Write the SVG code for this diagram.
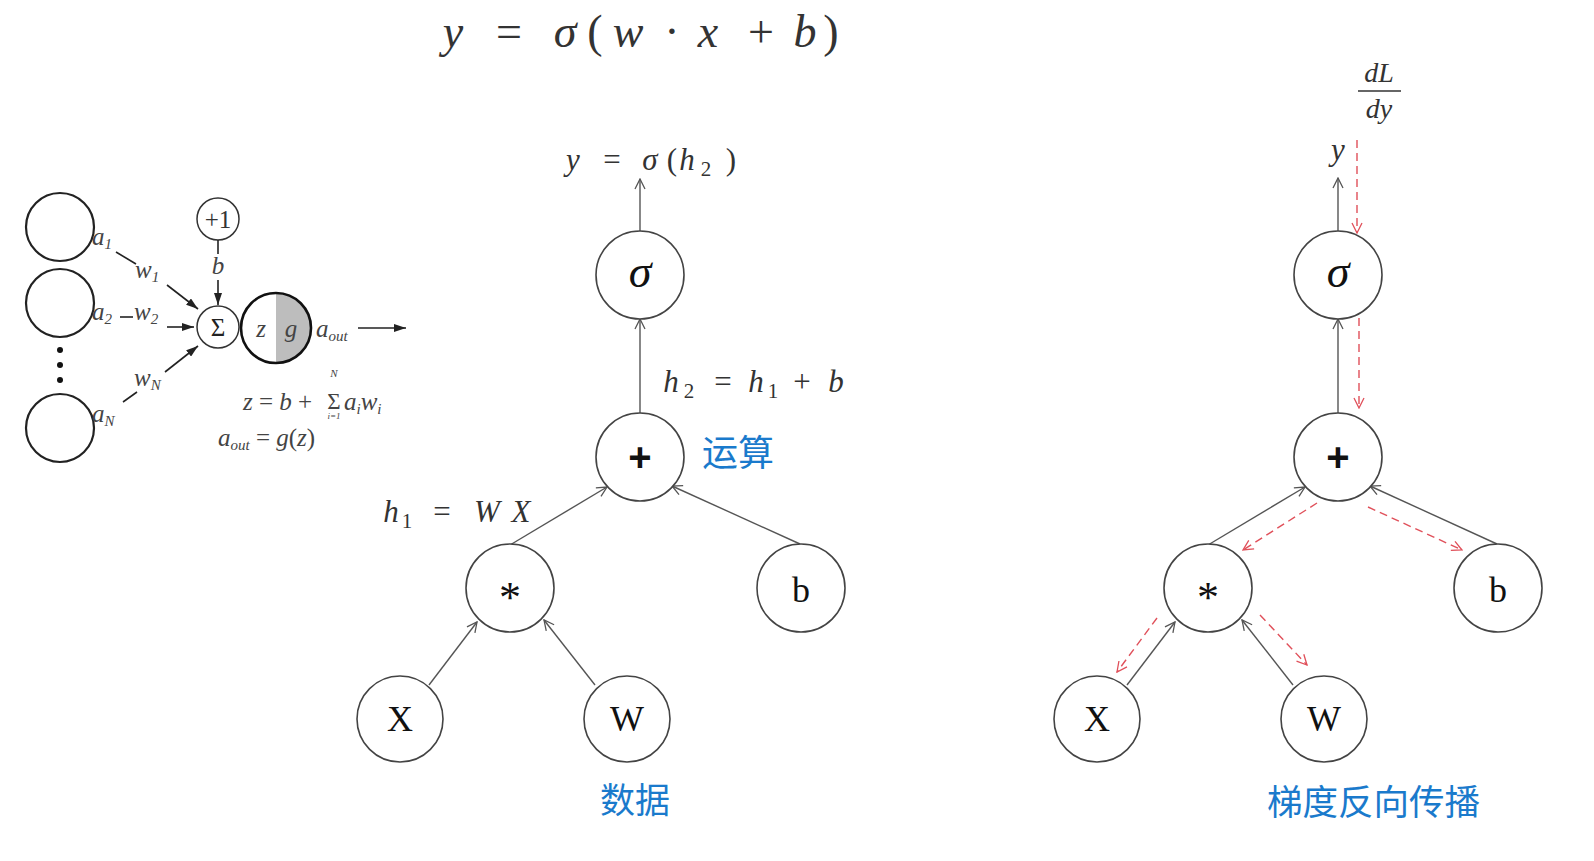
<svg xmlns="http://www.w3.org/2000/svg" width="1594" height="861" viewBox="0 0 1594 861">
<style>
.math{font-family:"Liberation Serif","DejaVu Serif",serif;fill:#333}
.node{fill:#fff;stroke:#444;stroke-width:1.6}
.lbl{font-family:"Liberation Serif","DejaVu Serif",serif;fill:#111;text-anchor:middle}
.cn{font-family:"Noto Sans CJK SC","Noto Sans",sans-serif;fill:#1a7acc}
.edge{stroke:#555;stroke-width:1.4;fill:none;marker-end:url(#arr)}
.back{stroke:#e0505a;stroke-width:1.4;fill:none;stroke-dasharray:8 5;marker-end:url(#arrR)}
.nl{font-family:"Liberation Serif","DejaVu Serif",serif;font-style:italic;fill:#444}
.nc{fill:#fff;stroke:#222;stroke-width:2.2}
.ne{stroke:#222;stroke-width:1.6;fill:none}
.na{stroke:#222;stroke-width:1.6;fill:none;marker-end:url(#tri)}
</style>
<defs>
<marker id="arr" viewBox="0 0 12 12" refX="11" refY="6" markerWidth="12" markerHeight="12" orient="auto" markerUnits="userSpaceOnUse"><path d="M1,1 L11,6 L1,11" fill="none" stroke="#555" stroke-width="1.3"/></marker>
<marker id="arrR" viewBox="0 0 12 12" refX="11" refY="6" markerWidth="12" markerHeight="12" orient="auto" markerUnits="userSpaceOnUse"><path d="M1,1 L11,6 L1,11" fill="none" stroke="#e0505a" stroke-width="1.3"/></marker>
<marker id="tri" viewBox="0 0 12 8" refX="12" refY="4" markerWidth="12" markerHeight="8" orient="auto" markerUnits="userSpaceOnUse"><path d="M0,0 L12,4 L0,8 z" fill="#222"/></marker>
</defs>
<rect width="1594" height="861" fill="#fff"/>

<!-- top formula -->
<g id="formula-top" class="math" font-size="46" text-anchor="middle">
<text y="47"><tspan x="453" font-style="italic">y</tspan><tspan x="509">=</tspan><tspan x="565" font-style="italic">σ</tspan><tspan x="595">(</tspan><tspan x="628" font-style="italic">w</tspan><tspan x="672">·</tspan><tspan x="708" font-style="italic">x</tspan><tspan x="761">+</tspan><tspan x="805" font-style="italic">b</tspan><tspan x="831">)</tspan></text>
</g>

<!-- left neuron diagram -->
<g id="neuron" font-size="25">
<circle class="nc" cx="60" cy="227" r="34"/>
<circle class="nc" cx="60" cy="303" r="34"/>
<circle cx="60" cy="350" r="3" fill="#111"/>
<circle cx="60" cy="365" r="3" fill="#111"/>
<circle cx="60" cy="380" r="3" fill="#111"/>
<circle class="nc" cx="60" cy="428" r="34"/>
<text class="nl" x="92" y="245">a<tspan font-size="15" dy="4">1</tspan></text>
<line class="ne" x1="116" y1="252" x2="136" y2="264"/>
<text class="nl" x="135" y="278">w<tspan font-size="15" dy="4">1</tspan></text>
<line class="na" x1="167" y1="285" x2="198" y2="309"/>
<text class="nl" x="92" y="320">a<tspan font-size="15" dy="4">2</tspan></text>
<line class="ne" x1="120" y1="317" x2="133" y2="317"/>
<text class="nl" x="134" y="320">w<tspan font-size="15" dy="4">2</tspan></text>
<line class="na" x1="167" y1="327" x2="194" y2="327"/>
<text class="nl" x="92" y="422">a<tspan font-size="15" dy="4">N</tspan></text>
<line class="ne" x1="123" y1="402" x2="137" y2="392"/>
<text class="nl" x="134" y="386">w<tspan font-size="15" dy="4">N</tspan></text>
<line class="na" x1="165" y1="372" x2="198" y2="346"/>
<circle cx="218" cy="219" r="21" fill="#fff" stroke="#333" stroke-width="1.5"/>
<text x="218" y="228" font-family="Liberation Serif,serif" font-size="25" fill="#333" text-anchor="middle">+1</text>
<line class="ne" x1="218" y1="240" x2="218" y2="254"/>
<text class="nl" x="218" y="274" text-anchor="middle">b</text>
<line class="na" x1="218" y1="280" x2="218" y2="305"/>
<circle cx="218" cy="327" r="21" fill="#fff" stroke="#333" stroke-width="1.5"/>
<text x="218" y="336" font-family="Liberation Serif,serif" font-size="25" fill="#222" text-anchor="middle">Σ</text>
<circle cx="276" cy="328" r="35" fill="#fff"/>
<path d="M276,293 A35,35 0 0,1 276,363 Z" fill="#bdbdbd"/>
<circle cx="276" cy="328" r="35" fill="none" stroke="#111" stroke-width="2.6"/>
<text class="nl" x="261" y="337" text-anchor="middle">z</text>
<text class="nl" x="291" y="337" text-anchor="middle" fill="#222">g</text>
<text class="nl" x="316" y="337">a<tspan font-size="15" dy="4">out</tspan></text>
<line class="na" x1="358" y1="328" x2="406" y2="328"/>
<text class="nl" x="243" y="410">z <tspan font-style="normal">=</tspan> b <tspan font-style="normal">+</tspan></text>
<text x="334" y="409" font-family="Liberation Serif,serif" font-size="23" fill="#444" text-anchor="middle">Σ</text>
<text class="nl" x="334" y="377" font-size="11" text-anchor="middle">N</text>
<text class="nl" x="334" y="419" font-size="9" text-anchor="middle">i=1</text>
<text class="nl" x="344" y="410">a<tspan font-size="15" dy="4">i</tspan><tspan dy="-4">w</tspan><tspan font-size="15" dy="4">i</tspan></text>
<text class="nl" x="218" y="446">a<tspan font-size="15" dy="4">out</tspan><tspan dy="-4" font-style="normal"> = </tspan>g<tspan font-style="normal">(</tspan>z<tspan font-style="normal">)</tspan></text>
</g>

<!-- middle graph labels -->
<g id="label-y-mid" class="math" font-size="31" text-anchor="middle">
<text y="170"><tspan x="573" font-style="italic">y</tspan><tspan x="612">=</tspan><tspan x="650" font-style="italic">σ</tspan><tspan x="672">(</tspan><tspan x="687" font-style="italic">h</tspan><tspan x="706" y="176" font-size="21">2</tspan><tspan x="731" y="170">)</tspan></text>
</g>
<g id="label-h2" class="math" font-size="31" text-anchor="middle">
<text y="392"><tspan x="671" font-style="italic">h</tspan><tspan x="689" y="398" font-size="21">2</tspan><tspan x="723" y="392">=</tspan><tspan x="756" font-style="italic">h</tspan><tspan x="773" y="398" font-size="21">1</tspan><tspan x="802" y="392">+</tspan><tspan x="836" font-style="italic">b</tspan></text>
</g>
<g id="label-h1" class="math" font-size="31" text-anchor="middle">
<text y="522"><tspan x="391" font-style="italic">h</tspan><tspan x="407" y="528" font-size="21">1</tspan><tspan x="442" y="522">=</tspan><tspan x="487" font-style="italic">W</tspan><tspan x="521" font-style="italic">X</tspan></text>
</g>
<text id="label-yunsuan" class="cn" x="702" y="466" font-size="36">运算</text>
<text id="label-shuju" class="cn" x="600" y="813" font-size="35">数据</text>

<!-- right graph labels -->
<g id="label-y-right" class="math" font-size="31" text-anchor="middle">
<text x="1338" y="160" font-style="italic">y</text>
</g>
<g id="label-dLdy" class="math" font-size="28" text-anchor="middle">
<text x="1379" y="82" font-style="italic">dL</text>
<line x1="1358" y1="91" x2="1401" y2="91" stroke="#333" stroke-width="1.3"/>
<text x="1379" y="118" font-style="italic">dy</text>
</g>
<text id="label-backprop" class="cn" x="1267" y="815" font-size="35.5">梯度反向传播</text>

<!-- connectors -->
<g id="connectors">
<line class="edge" x1="640" y1="231" x2="640" y2="179"/>
<line class="edge" x1="640" y1="413" x2="640" y2="319"/>
<line class="edge" x1="510" y1="545" x2="607" y2="487"/>
<line class="edge" x1="800" y1="544" x2="672" y2="486"/>
<line class="edge" x1="429" y1="685" x2="477" y2="622"/>
<line class="edge" x1="595" y1="685" x2="544" y2="620"/>

<line class="edge" x1="1338" y1="231" x2="1338" y2="178"/>
<line class="edge" x1="1338" y1="413" x2="1338" y2="319"/>
<line class="edge" x1="1208" y1="545" x2="1305" y2="487"/>
<line class="edge" x1="1497" y1="544" x2="1370" y2="486"/>
<line class="edge" x1="1127" y1="685" x2="1175" y2="622"/>
<line class="edge" x1="1293" y1="685" x2="1242" y2="620"/>

<line class="back" x1="1357" y1="140" x2="1357" y2="233"/>
<line class="back" x1="1359" y1="318" x2="1359" y2="408"/>
<line class="back" x1="1317" y1="503" x2="1243" y2="550"/>
<line class="back" x1="1368" y1="507" x2="1462" y2="550"/>
<line class="back" x1="1157" y1="618" x2="1117" y2="672"/>
<line class="back" x1="1260" y1="615" x2="1307" y2="665"/>
</g>

<!-- middle graph nodes -->
<g id="m-sigma"><circle class="node" cx="640" cy="275" r="44"/><text class="lbl" x="640" y="287" font-size="46" font-style="italic">σ</text></g>
<g id="m-plus"><circle class="node" cx="640" cy="457" r="44"/><text x="640" y="471" font-family="Liberation Sans,Arial,sans-serif" font-weight="bold" font-size="40" text-anchor="middle" fill="#111">+</text></g>
<g id="m-mul"><circle class="node" cx="510" cy="588" r="44"/><text class="lbl" x="510" y="612" font-size="44">*</text></g>
<g id="m-b"><circle class="node" cx="801" cy="588" r="44"/><text class="lbl" x="801" y="602" font-size="36">b</text></g>
<g id="m-X"><circle class="node" cx="400" cy="719" r="43"/><text class="lbl" x="400" y="731" font-size="36">X</text></g>
<g id="m-W"><circle class="node" cx="627" cy="719" r="43"/><text class="lbl" x="627" y="731" font-size="36">W</text></g>

<!-- right graph nodes -->
<g id="r-sigma"><circle class="node" cx="1338" cy="275" r="44"/><text class="lbl" x="1338" y="287" font-size="46" font-style="italic">σ</text></g>
<g id="r-plus"><circle class="node" cx="1338" cy="457" r="44"/><text x="1338" y="471" font-family="Liberation Sans,Arial,sans-serif" font-weight="bold" font-size="40" text-anchor="middle" fill="#111">+</text></g>
<g id="r-mul"><circle class="node" cx="1208" cy="588" r="44"/><text class="lbl" x="1208" y="612" font-size="44">*</text></g>
<g id="r-b"><circle class="node" cx="1498" cy="588" r="44"/><text class="lbl" x="1498" y="602" font-size="36">b</text></g>
<g id="r-X"><circle class="node" cx="1097" cy="719" r="43"/><text class="lbl" x="1097" y="731" font-size="36">X</text></g>
<g id="r-W"><circle class="node" cx="1324" cy="719" r="43"/><text class="lbl" x="1324" y="731" font-size="36">W</text></g>
</svg>
